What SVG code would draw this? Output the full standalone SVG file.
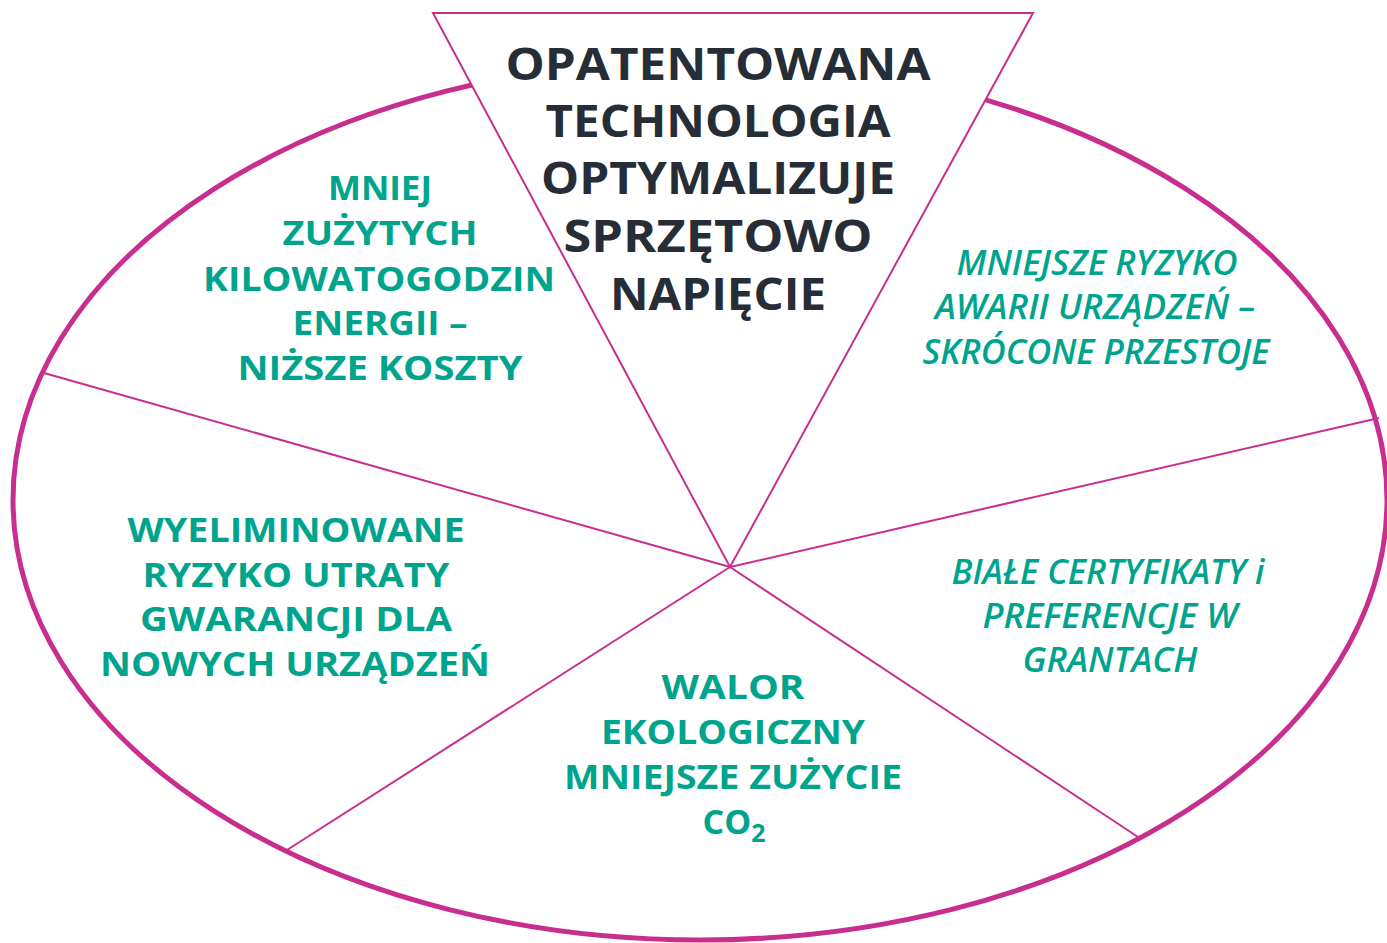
<svg xmlns="http://www.w3.org/2000/svg" width="1387" height="943" viewBox="0 0 1387 943">
<style>
.ell{fill:none;stroke:#C72E8E;stroke-width:5}
.ln{stroke:#C72E8E;stroke-width:2;fill:none}
.tri{fill:#FFFFFF;stroke:#C72E8E;stroke-width:2}
.title{font-family:"Open Sans","Liberation Sans",sans-serif;font-weight:700;font-size:45px;fill:#262D36;text-anchor:middle}
.g{font-family:"Open Sans","Liberation Sans",sans-serif;font-weight:700;font-size:34px;fill:#00A48D;text-anchor:middle}
.gi{font-family:"Open Sans","Liberation Sans",sans-serif;font-weight:600;font-style:italic;font-size:34px;fill:#00A48D;text-anchor:middle}
</style>
<rect width="1387" height="943" fill="#FFFFFF"/>
<g id="ellipse"><ellipse class="ell" cx="700" cy="500" rx="687" ry="440"/></g>
<g id="connectors">
<line class="ln" x1="730" y1="567" x2="44" y2="373"/>
<line class="ln" x1="730" y1="567" x2="1379" y2="418"/>
<line class="ln" x1="730" y1="567" x2="287" y2="850"/>
<line class="ln" x1="730" y1="567" x2="1138" y2="837"/>
</g>
<g id="center-node">
<polygon class="tri" points="433,13 1033,13 730,567"/>
<text class="title" x="718" y="80" textLength="425" lengthAdjust="spacingAndGlyphs">OPATENTOWANA</text>
<text class="title" x="718" y="137" textLength="345" lengthAdjust="spacingAndGlyphs">TECHNOLOGIA</text>
<text class="title" x="718" y="194" textLength="354" lengthAdjust="spacingAndGlyphs">OPTYMALIZUJE</text>
<text class="title" x="718" y="252" textLength="309" lengthAdjust="spacingAndGlyphs">SPRZĘTOWO</text>
<text class="title" x="718" y="310" textLength="216" lengthAdjust="spacingAndGlyphs">NAPIĘCIE</text>
</g>
<g id="node-energy">
<text class="g" x="380" y="200" textLength="104" lengthAdjust="spacingAndGlyphs">MNIEJ</text>
<text class="g" x="380" y="245" textLength="195" lengthAdjust="spacingAndGlyphs">ZUŻYTYCH</text>
<text class="g" x="379" y="291" textLength="352" lengthAdjust="spacingAndGlyphs">KILOWATOGODZIN</text>
<text class="g" x="380" y="335" textLength="175" lengthAdjust="spacingAndGlyphs">ENERGII –</text>
<text class="g" x="380" y="380" textLength="285" lengthAdjust="spacingAndGlyphs">NIŻSZE KOSZTY</text>
</g>
<g id="node-warranty">
<text class="g" x="296" y="542" textLength="337" lengthAdjust="spacingAndGlyphs">WYELIMINOWANE</text>
<text class="g" x="296" y="587" textLength="307" lengthAdjust="spacingAndGlyphs">RYZYKO UTRATY</text>
<text class="g" x="296" y="631" textLength="312" lengthAdjust="spacingAndGlyphs">GWARANCJI DLA</text>
<text class="g" x="295" y="676" textLength="390" lengthAdjust="spacingAndGlyphs">NOWYCH URZĄDZEŃ</text>
</g>
<g id="node-eco">
<text class="g" x="733" y="699" textLength="143" lengthAdjust="spacingAndGlyphs">WALOR</text>
<text class="g" x="733" y="744" textLength="264" lengthAdjust="spacingAndGlyphs">EKOLOGICZNY</text>
<text class="g" x="733" y="789" textLength="338" lengthAdjust="spacingAndGlyphs">MNIEJSZE ZUŻYCIE</text>
<text class="g" x="734" y="834">CO<tspan font-size="25" dy="8">2</tspan></text>
</g>
<g id="node-failure">
<text class="gi" x="1097" y="275" textLength="281" lengthAdjust="spacingAndGlyphs">MNIEJSZE RYZYKO</text>
<text class="gi" x="1095" y="319" textLength="320" lengthAdjust="spacingAndGlyphs">AWARII URZĄDZEŃ –</text>
<text class="gi" x="1096" y="364" textLength="347" lengthAdjust="spacingAndGlyphs">SKRÓCONE PRZESTOJE</text>
</g>
<g id="node-certificates">
<text class="gi" x="1108" y="584" textLength="313" lengthAdjust="spacingAndGlyphs">BIAŁE CERTYFIKATY i</text>
<text class="gi" x="1110" y="628" textLength="255" lengthAdjust="spacingAndGlyphs">PREFERENCJE W</text>
<text class="gi" x="1110" y="672" textLength="175" lengthAdjust="spacingAndGlyphs">GRANTACH</text>
</g>
</svg>
